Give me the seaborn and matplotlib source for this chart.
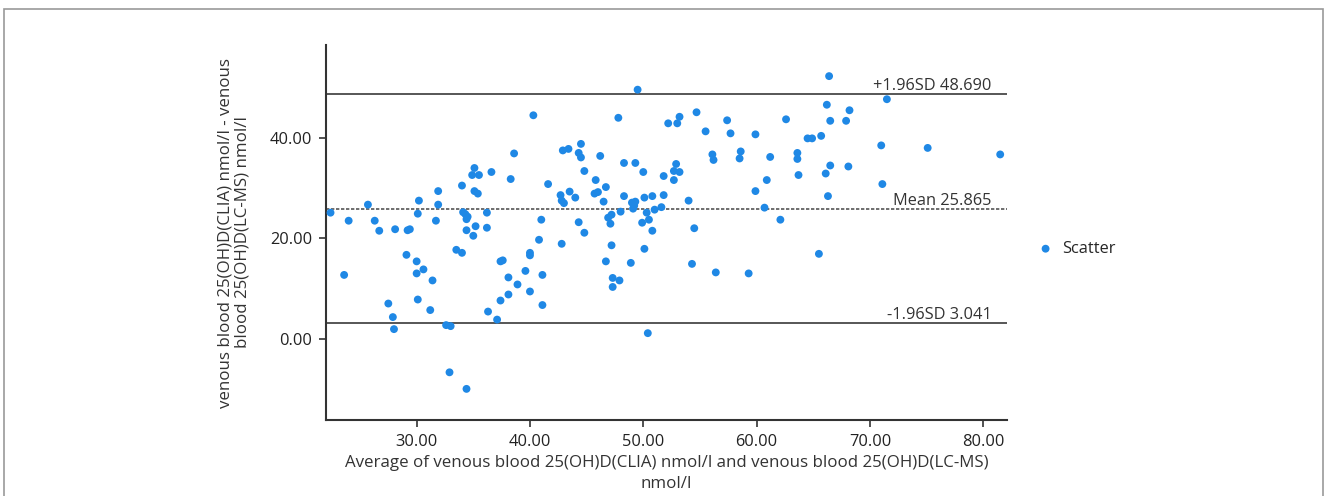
import numpy as np
import pandas as pd
import seaborn as sns
import matplotlib.pyplot as plt
from matplotlib.patches import Rectangle

# Average of the two methods (x) and their difference (y)
avg_values = [
    22.4, 23.6, 24.0, 25.7, 26.3, 26.7, 27.5, 27.9, 28.0, 28.1,
    29.1, 29.2, 29.4, 30.0, 30.0, 30.6, 30.1, 30.1, 30.2, 31.2,
    31.4, 31.7, 31.9, 31.9, 32.6, 33.0, 32.9, 34.4, 33.5, 34.0,
    34.0, 34.1, 34.3, 34.5, 34.4, 34.4, 35.0, 35.2, 35.1, 34.9,
    35.5, 35.1, 35.4, 36.2, 36.2, 36.3, 36.6, 37.1, 37.4, 37.4,
    37.6, 38.1, 38.1, 38.9, 38.3, 38.6, 39.6, 40.0, 40.0, 40.0,
    40.3, 40.8, 41.0, 41.1, 41.1, 41.6, 42.7, 42.8, 43.0, 42.8,
    42.9, 43.4, 43.5, 44.0, 44.3, 44.5, 44.5, 44.3, 44.8, 44.8,
    45.8, 45.7, 46.0, 46.2, 46.7, 46.5, 46.7, 46.9, 47.2, 47.1,
    47.2, 47.3, 47.9, 47.3, 47.8, 48.0, 48.3, 48.3, 48.9, 49.0,
    49.3, 49.1, 49.2, 49.3, 49.5, 49.9, 50.0, 50.1, 50.1, 50.3,
    50.5, 50.8, 50.4, 50.8, 51.0, 51.6, 51.8, 51.8, 52.2, 52.7,
    52.9, 53.2, 52.7, 53.0, 53.2, 54.0, 54.3, 54.5, 54.7, 55.5,
    56.1, 56.2, 56.4, 57.4, 57.7, 58.6, 58.5, 59.3, 59.9, 59.9,
    60.7, 60.9, 61.2, 62.1, 62.6, 63.6, 63.6, 63.7, 64.5, 64.9,
    65.7, 65.5, 66.1, 66.2, 66.3, 66.4, 66.5, 66.5, 67.9, 68.1,
    68.2, 71.0, 71.1, 71.5, 75.1, 81.5,
]
diff_values = [
    25.1, 12.7, 23.5, 26.7, 23.5, 21.5, 7.0, 4.3, 1.9, 21.8,
    16.7, 21.6, 21.8, 15.4, 13.0, 13.8, 7.8, 24.9, 27.5, 5.7,
    11.6, 23.5, 26.7, 29.4, 2.7, 2.5, -6.7, -10.0, 17.7, 17.1,
    30.5, 25.2, 24.8, 24.3, 23.8, 21.6, 20.5, 22.4, 34.0, 32.6,
    32.6, 29.4, 28.9, 25.1, 22.1, 5.4, 33.2, 3.8, 7.6, 15.4,
    15.6, 12.2, 8.8, 10.8, 31.8, 36.9, 13.5, 17.1, 16.6, 9.4,
    44.5, 19.7, 23.7, 12.7, 6.7, 30.8, 28.6, 27.5, 27.0, 18.9,
    37.5, 37.8, 29.3, 28.1, 37.0, 36.1, 38.8, 23.2, 21.1, 33.4,
    31.6, 28.9, 29.2, 36.4, 30.2, 27.3, 15.4, 24.1, 24.7, 22.9,
    18.6, 12.1, 11.6, 10.3, 44.0, 25.3, 35.0, 28.4, 15.1, 27.1,
    27.3, 25.9, 26.5, 35.0, 49.6, 23.1, 33.2, 28.1, 17.9, 25.1,
    23.7, 21.5, 1.1, 28.4, 25.7, 26.2, 28.6, 32.4, 42.9, 33.4,
    34.8, 33.2, 31.6, 42.9, 44.2, 27.5, 14.9, 22.0, 45.1, 41.3,
    36.7, 35.6, 13.2, 43.5, 40.9, 37.3, 35.9, 13.0, 40.7, 29.4,
    26.1, 31.6, 36.2, 23.7, 43.7, 37.0, 35.8, 32.6, 39.9, 39.9,
    40.4, 16.9, 32.9, 46.6, 28.4, 52.3, 43.4, 34.5, 43.4, 34.3,
    45.5, 38.5, 30.8, 47.7, 38.0, 36.7,
]

mean_diff = 25.865
upper_loa = 48.690
lower_loa = 3.041

x_ticks = [30, 40, 50, 60, 70, 80]
y_ticks = [0, 20, 40]

df = pd.DataFrame({"avg": avg_values, "diff": diff_values})

sns.set_style("white")
plt.rcParams["font.family"] = ["Open Sans", "DejaVu Sans"]
fs = 11.8
label_fs = 12.2

fig = plt.figure(figsize=(13.28, 4.96), dpi=100)
ax = fig.add_axes([326 / 1328, 1 - 420 / 496, 681 / 1328, 375 / 496])

sns.scatterplot(data=df, x="avg", y="diff", ax=ax, color="#1f88e5", s=32,
                edgecolor="none", label="Scatter", zorder=3)

# Limits of agreement and mean line
ax.axhline(upper_loa, color="#3a3a3a", lw=1.2, zorder=2)
ax.axhline(mean_diff, color="#555555", lw=1.2, ls=(0, (2, 1)), zorder=2)
ax.axhline(lower_loa, color="#3a3a3a", lw=1.2, zorder=2)

for val, txt in [(upper_loa, f"+1.96SD {upper_loa:.3f}"),
                 (mean_diff, f"Mean {mean_diff:.3f}"),
                 (lower_loa, f"-1.96SD {lower_loa:.3f}")]:
    ax.annotate(txt, xy=(1, val), xycoords=("axes fraction", "data"),
                xytext=(-11, 3), textcoords="offset points",
                ha="right", va="baseline", fontsize=fs, color="#333333")

ax.set_xlim(22.0, 82.1)
ax.set_ylim(-16.2, 58.5)
ax.set_xticks(x_ticks)
ax.set_yticks(y_ticks)
ax.set_xticklabels([f"{t:.2f}" for t in x_ticks])
ax.set_yticklabels([f"{t:.2f}" for t in y_ticks])
ax.tick_params(axis="both", direction="out", length=5, width=1.2,
               colors="#333333", labelsize=fs, labelcolor="#222222", pad=5)
ax.tick_params(left=True, bottom=True)

sns.despine(ax=ax)
for side in ["left", "bottom"]:
    ax.spines[side].set_color("#333333")
    ax.spines[side].set_linewidth(1.5)

ax.set_xlabel("Average of venous blood 25(OH)D(CLIA) nmol/l and venous blood 25(OH)D(LC-MS)\nnmol/l",
              fontsize=label_fs, color="#333333", labelpad=4, linespacing=1.35)
ax.set_ylabel("venous blood 25(OH)D(CLIA) nmol/l - venous\nblood 25(OH)D(LC-MS) nmol/l",
              fontsize=label_fs, color="#333333", labelpad=14, linespacing=1.05)

ax.legend(loc="center left", bbox_to_anchor=(1.035, 0.456), frameon=False,
          fontsize=fs, handlelength=1.0, handletextpad=0.5, borderaxespad=0)

# thin grey frame around the figure
fig.patches.append(Rectangle((4 / 1328, -0.05), 1319 / 1328, 1.05 - 9 / 496,
                             transform=fig.transFigure, fill=False,
                             edgecolor="#999999", lw=1.2))

fig.savefig("out.png", dpi=100)
